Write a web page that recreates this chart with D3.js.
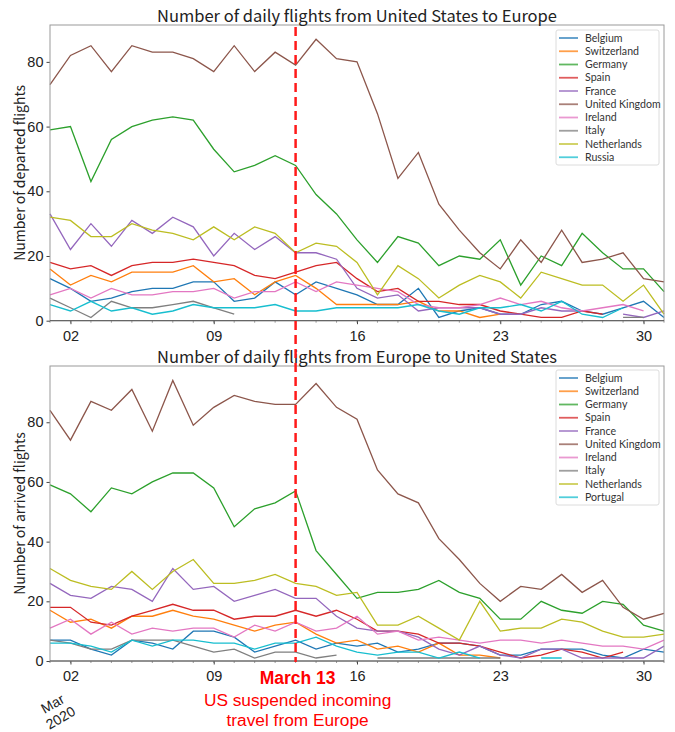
<!DOCTYPE html>
<html><head><meta charset="utf-8">
<script src="https://cdn.jsdelivr.net/npm/d3@7"></script>
<style>
body{margin:0;background:#fff;}
svg{display:block;}
</style></head>
<body>
<svg id="c" width="675" height="732"></svg>
<script>
// ---- data ----
const dayNumbers = [1,2,3,4,5,6,7,8,9,10,11,12,13,14,15,16,17,18,19,20,21,22,23,24,25,26,27,28,29,30,31];
const tickDays = [2,9,16,23,30];
const yTicks = [0,20,40,60,80];
const eventDay = 13;

const depCountries = ["Belgium","Switzerland","Germany","Spain","France","United Kingdom","Ireland","Italy","Netherlands","Russia"];
const arrCountries = ["Belgium","Switzerland","Germany","Spain","France","United Kingdom","Ireland","Italy","Netherlands","Portugal"];
const colors = ["#1f77b4","#ff7f0e","#2ca02c","#d62728","#9467bd","#8c564b","#e377c2","#7f7f7f","#bcbd22","#17becf"];

// departed: United States -> Europe
const depBelgium     = [13,10,6,7,9,10,10,12,12,6,7,12,8,12,10,8,5,5,10,1,3,4,2,2,5,6,3,2,4,6,1];
const depSwitzerland = [16,11,14,12,15,15,15,17,12,13,8,12,14,10,5,5,5,5,6,3,3,1,2,null,null,null,null,null,null,null,null];
const depGermany     = [59,60,43,56,60,62,63,62,53,46,48,51,48,39,33,25,18,26,24,17,20,19,25,11,20,17,27,21,16,16,9];
const depSpain       = [18,16,17,14,17,18,18,19,18,17,14,13,15,17,18,13,9,10,6,6,5,5,3,2,1,1,3,2,null,null,null];
const depFrance      = [33,22,30,23,31,27,32,29,20,27,22,26,21,21,19,10,7,8,3,4,4,4,2,2,4,3,3,null,2,1,3];
const depUK          = [73,82,85,77,85,83,83,81,77,85,77,83,79,87,81,80,64,44,52,36,28,21,16,25,18,28,18,19,21,13,12];
const depIreland     = [8,10,7,10,8,8,9,9,10,7,9,9,12,9,12,11,10,9,5,4,4,5,7,5,6,4,3,4,5,3,null];
const depItaly       = [7,4,1,6,4,4,5,6,4,2,null,null,null,null,null,null,null,null,null,null,null,null,null,null,null,null,null,null,1,1,null];
const depNetherlands = [32,31,26,26,30,28,27,25,29,25,29,27,21,24,23,18,8,17,13,7,11,14,12,7,15,13,11,11,6,11,2];
const depRussia      = [5,3,6,3,4,2,3,5,4,4,4,5,3,3,4,4,4,4,5,3,2,4,4,5,3,6,2,1,4,null,null];

// arrived: Europe -> United States
const arrBelgium     = [7,7,4,2,7,6,4,10,10,8,3,5,7,4,6,5,6,3,4,6,6,5,2,2,4,4,4,2,1,4,3];
const arrSwitzerland = [17,13,14,11,15,15,17,15,14,12,10,12,13,9,6,7,4,5,3,6,2,2,1,null,null,null,null,null,null,null,null];
const arrGermany     = [59,56,50,58,56,60,63,63,58,45,51,53,57,37,29,21,23,23,24,27,23,21,14,14,20,17,16,20,19,12,10];
const arrSpain       = [18,18,13,12,15,17,19,17,17,14,15,15,17,15,17,14,10,10,9,6,6,5,3,1,2,4,3,1,3,null,null];
const arrFrance      = [26,22,21,25,24,20,31,24,25,20,22,24,21,21,15,11,10,10,8,4,2,5,2,1,4,4,1,1,1,1,5];
const arrUK          = [84,74,87,84,91,77,94,79,85,89,87,86,86,93,85,81,64,56,53,41,34,26,20,25,24,29,23,27,18,14,16];
const arrIreland     = [11,14,9,13,9,11,10,11,11,8,12,10,13,10,11,15,9,10,7,8,7,6,7,7,6,7,6,5,5,4,7];
const arrItaly       = [7,6,4,4,7,7,7,5,3,4,1,3,3,1,2,null,1,1,1,1,1,1,1,null,null,null,null,null,null,null,null];
const arrNetherlands = [31,27,25,24,30,24,30,34,26,26,27,29,26,25,22,23,12,12,15,11,7,20,10,11,11,14,13,10,8,8,9];
const arrPortugal    = [6,6,5,3,7,5,7,7,6,6,4,6,6,8,5,3,2,3,3,1,3,1,null,null,1,1,null,null,null,null,null];

const depSeries = [depBelgium,depSwitzerland,depGermany,depSpain,depFrance,depUK,depIreland,depItaly,depNetherlands,depRussia];
const arrSeries = [arrBelgium,arrSwitzerland,arrGermany,arrSpain,arrFrance,arrUK,arrIreland,arrItaly,arrNetherlands,arrPortugal];

// ---- drawing ----
const svg = d3.select("#c");
const date = d => new Date(2020, 2, d);
const left = 50, right = 664;
const x = d3.scaleTime().domain([date(1), date(31)]).range([left, right]);
const titleFont = "'Noto Sans CJK JP','Noto Sans',sans-serif";
const legendFont = "Lato,'Noto Sans',sans-serif";
const tickFont = "'Liberation Sans',Arial,sans-serif";

function panel(opts){
  const {top, bottom, ymax, title, ylabel, countries, series, legendTop} = opts;
  const y = d3.scaleLinear().domain([0, ymax]).range([bottom, top]);
  const g = svg.append("g");

  // lines
  const line = d3.line().defined(v => v != null).x((v,i) => x(date(dayNumbers[i]))).y(v => y(v));
  series.forEach((s, k) => {
    g.append("path").attr("d", line(s)).attr("fill","none")
      .attr("stroke", colors[k]).attr("stroke-width", 1.3);
  });

  // x axis
  const xa = g.append("g").attr("transform", `translate(0,${bottom})`)
    .call(d3.axisBottom(x).tickValues(tickDays.map(date)).tickFormat(d3.timeFormat("%d")).tickSize(3.5));
  xa.append("g").selectAll("line").data(dayNumbers).join("line")
    .attr("x1", d => x(date(d))).attr("x2", d => x(date(d))).attr("y1",0).attr("y2",2)
    .attr("stroke","#555").attr("stroke-width",0.6);
  xa.select(".domain").remove();
  xa.selectAll(".tick line").attr("stroke","#444");
  xa.selectAll(".tick text").attr("font-family", tickFont).attr("font-size", 14.5).attr("fill","#222").attr("dy","0.95em");

  // y axis
  const ya = g.append("g").attr("transform", `translate(${left},0)`)
    .call(d3.axisLeft(y).tickValues(yTicks).tickSize(3.5).tickPadding(3));
  ya.select(".domain").remove();
  ya.selectAll(".tick line").attr("stroke","#444");
  ya.selectAll(".tick text").attr("font-family", tickFont).attr("font-size", 14.5).attr("fill","#222");

  // frame
  g.append("rect").attr("x", left).attr("y", top).attr("width", right-left).attr("height", bottom-top)
    .attr("fill","none").attr("stroke","#9a9a9a").attr("stroke-width",1);
  g.append("line").attr("x1",left).attr("x2",right).attr("y1",bottom).attr("y2",bottom).attr("stroke","#555").attr("stroke-width",1);

  // title
  g.append("text").attr("x", (left+right)/2).attr("y", top-3).attr("text-anchor","middle")
    .attr("font-family", titleFont).attr("font-size", 16.5).attr("fill","#222").text(title);
  // y label
  g.append("text").attr("transform", `translate(25,${(top+bottom)/2}) rotate(-90)`).attr("text-anchor","middle")
    .attr("font-family", titleFont).attr("font-size", 14).attr("fill","#222").text(ylabel);

  // legend
  const lx = 556, lw = 103, rowH = 13.25;
  const lg = g.append("g");
  lg.append("rect").attr("x", lx).attr("y", legendTop).attr("width", lw).attr("height", 135).attr("rx", 2)
    .attr("fill","#fff").attr("fill-opacity",0.85).attr("stroke","#dcdcdc");
  countries.forEach((c,k) => {
    const yy = legendTop + 8 + k*rowH;
    lg.append("line").attr("x1", lx+3).attr("x2", lx+22).attr("y1", yy).attr("y2", yy)
      .attr("stroke", colors[k]).attr("stroke-width", 1.8).attr("stroke-opacity", 0.75);
    lg.append("text").attr("x", lx+29).attr("y", yy).attr("dy","0.35em")
      .attr("font-family", legendFont).attr("font-size", 10.6).attr("fill","#333").text(c);
  });
  return y;
}

panel({top:25, bottom:320.7, ymax:91.4, title:"Number of daily flights from United States to Europe",
  ylabel:"Number of departed flights", countries:depCountries, series:depSeries, legendTop:30});
panel({top:366, bottom:661, ymax:98.85, title:"Number of daily flights from Europe to United States",
  ylabel:"Number of arrived flights", countries:arrCountries, series:arrSeries, legendTop:370});

// event line
const ex = x(date(eventDay));
svg.append("line").attr("x1", ex).attr("x2", ex).attr("y1", 27).attr("y2", 662)
  .attr("stroke","#ff1a1a").attr("stroke-width",2.5).attr("stroke-dasharray","9,5");

const ann = svg.append("g").attr("font-family", tickFont).attr("fill","#ff0000").attr("text-anchor","middle");
ann.append("text").attr("x", ex+2).attr("y", 684).attr("font-size", 17.5).attr("font-weight","bold").text("March 13");
ann.append("text").attr("x", ex+2).attr("y", 706).attr("font-size", 17.3).text("US suspended incoming");
ann.append("text").attr("x", ex+2).attr("y", 726).attr("font-size", 17.3).text("travel from Europe");

// date offset label
const ml = svg.append("g").attr("font-family", tickFont).attr("font-size", 14).attr("fill","#222").attr("text-anchor","middle");
ml.append("text").attr("transform","translate(55,708) rotate(-30)").text("Mar");
ml.append("text").attr("transform","translate(63,722) rotate(-30)").text("2020");
</script>
</body></html>
